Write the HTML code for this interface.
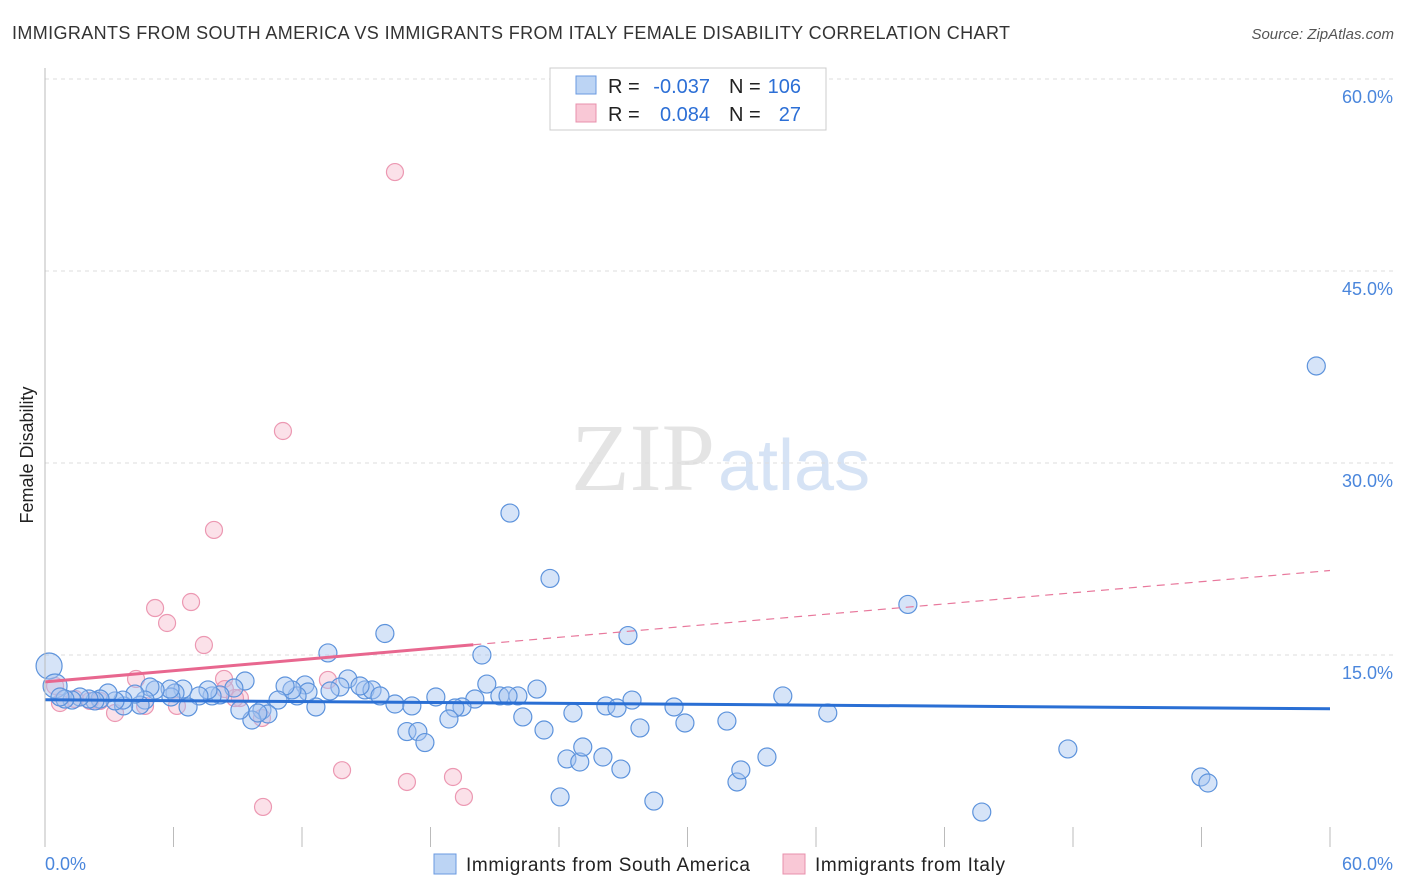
<!DOCTYPE html>
<html><head><meta charset="utf-8"><style>
body{margin:0;background:#fff;font-family:"Liberation Sans",sans-serif}
#c{position:relative;width:1406px;height:892px;overflow:hidden}
</style></head><body>
<div id="c">
<svg id="s" width="1406" height="892">
<text x="12" y="39" font-size="18" fill="#333" textLength="998">IMMIGRANTS FROM SOUTH AMERICA VS IMMIGRANTS FROM ITALY FEMALE DISABILITY CORRELATION CHART</text>
<text x="1394" y="39" font-size="15" fill="#555" text-anchor="end" font-style="italic">Source: ZipAtlas.com</text>
<text x="715" y="490" font-size="96" fill="#e4e4e4" text-anchor="end" font-family="Liberation Serif">ZIP</text>
<text x="718" y="490" font-size="72" fill="#d6e3f5">atlas</text>
<text transform="translate(33,455) rotate(-90)" font-size="18" fill="#222" text-anchor="middle">Female Disability</text>
<g id="grid"></g><g id="pts"></g><g id="lines"></g>
<line x1="45" y1="68" x2="45" y2="847" stroke="#bbb"/>
<g>
<rect x="550" y="68" width="276" height="62" fill="#fff" stroke="#ccc"/>
<rect x="576" y="76" width="20" height="18" fill="#bcd4f4" stroke="#6a9ae0"/>
<rect x="576" y="104" width="20" height="18" fill="#f9c8d6" stroke="#e890ac"/>
<text x="608" y="93" font-size="20" fill="#222">R =</text>
<text x="710" y="93" font-size="20" fill="#2c6fd6" text-anchor="end">-0.037</text>
<text x="729" y="93" font-size="20" fill="#222">N =</text>
<text x="801" y="93" font-size="20" fill="#2c6fd6" text-anchor="end">106</text>
<text x="608" y="121" font-size="20" fill="#222">R =</text>
<text x="710" y="121" font-size="20" fill="#2c6fd6" text-anchor="end">0.084</text>
<text x="729" y="121" font-size="20" fill="#222">N =</text>
<text x="801" y="121" font-size="20" fill="#2c6fd6" text-anchor="end">27</text>
</g>
<g>
<rect x="434" y="854" width="22" height="20" fill="#bcd4f4" stroke="#6a9ae0"/>
<text x="466" y="871" font-size="19" fill="#222" textLength="284">Immigrants from South America</text>
<rect x="783" y="854" width="22" height="20" fill="#f9c8d6" stroke="#e890ac"/>
<text x="815" y="871" font-size="19" fill="#222" textLength="190">Immigrants from Italy</text>
</g>
</svg></div>
<script>
const yTicks=[15,30,45,60];
const xTickLabels=["0.0%","60.0%"];
const blueX=[59.36,21.71,23.58,40.29,27.22,15.87,13.21,20.4,0.19,0.47,22.97,14.14,20.63,22.08,20.07,12.14,14.94,15.27,21.24,21.62,18.25,19.47,19.14,22.31,23.3,24.65,26.19,26.71,27.41,29.37,29.88,31.84,34.45,36.55,27.78,24.37,24.97,25.11,26.05,26.89,28.43,24.05,32.31,32.49,33.71,47.76,53.97,54.3,43.74,16.9,17.41,17.74,18.86,16.34,17.13,15.64,14.71,13.77,13.31,12.65,12.28,11.77,11.53,11.21,10.88,10.13,10.41,9.66,9.94,9.1,9.34,8.82,8.17,7.8,7.61,7.19,6.68,6.44,6.07,5.88,5.84,5.14,4.9,4.67,4.44,4.2,3.67,3.64,3.27,2.94,2.57,2.33,2.05,1.63,1.26,0.93,0.7];
const blueY=[37.58,26.09,20.98,18.95,16.52,16.68,15.16,15.0,14.14,12.58,12.34,13.13,12.73,11.8,11.56,12.66,12.27,12.27,11.8,11.8,11.72,10.94,10.86,10.16,9.14,10.47,11.02,10.86,11.48,10.94,9.69,9.84,11.8,10.47,9.3,6.88,6.64,7.81,7.03,6.09,3.59,3.91,5.08,6.02,7.03,7.66,5.47,5.0,2.73,9.02,9.02,8.16,10.0,11.17,11.02,11.8,12.58,12.5,12.19,10.94,12.11,11.8,12.27,12.58,11.48,10.7,10.39,9.92,10.47,10.7,12.97,12.42,11.88,11.8,12.27,11.8,10.94,12.34,12.03,11.72,12.34,12.27,12.5,11.48,11.09,11.95,11.02,11.48,11.41,12.03,11.56,11.41,11.56,11.72,11.48,11.56,11.72];
const blueR=[9,9,9,9,9,9,9,9,13,12];
const pinkX=[16.34,11.11,7.89,6.82,5.14,5.7,7.42,13.21,4.25,8.36,9.1,6.16,4.67,3.27,2.57,0.7,1.4,0.47,2.1,13.87,16.9,19.05,19.56,10.18,10.13,8.87,8.4];
const pinkY=[52.73,32.5,24.77,19.14,18.67,17.5,15.78,13.05,13.13,13.13,11.64,11.02,11.02,10.47,11.41,11.25,11.56,12.58,11.41,6.0,5.08,5.47,3.91,3.13,10.08,11.64,12.34];
const blueTrend=[11.5,10.8];
const pinkTrend=[12.9,21.6];
const pinkSolidEnd=20;
const NS="http://www.w3.org/2000/svg";
const X=v=>45+v*(1285/60), Y=v=>847-v*12.8;
function mk(tag,at,par){const e=document.createElementNS(NS,tag);for(const k in at)e.setAttribute(k,at[k]);document.getElementById(par).appendChild(e);return e;}
yTicks.forEach(t=>{
 const l=mk('line',{x1:45,x2:1395,y1:Y(t),y2:Y(t),stroke:'#ddd','stroke-dasharray':'4,4'},'grid');
 
 
 const tx=mk('text',{x:1393,y:Y(t)+24,'font-size':18,fill:'#4a86dc','text-anchor':'end'},'grid');
 tx.textContent=t.toFixed(1)+'%';
 
 
});
for(let i=0;i<=10;i++){
 const l=mk('line',{x1:X(i*6),x2:X(i*6),y1:827,y2:847,stroke:'#bbb'},'grid');
 
 
}
xTickLabels.forEach((s,i)=>{
 const tx=mk('text',{x:i?1393:45,y:870,'font-size':18,fill:'#4a86dc','text-anchor':i?'end':'start'},'grid');
 tx.textContent=s;
 
 
});
pinkX.forEach((x,i)=>{
 const c=mk('circle',{cx:X(x),cy:Y(pinkY[i]),r:8.5,fill:'rgba(246,180,200,0.4)',stroke:'#ec98b2','stroke-width':1.2},'pts');
 
 
});
blueX.forEach((x,i)=>{
 const c=mk('circle',{cx:X(x),cy:Y(blueY[i]),r:blueR[i]||9,fill:'rgba(164,196,240,0.45)',stroke:'#5d93dc','stroke-width':1.2},'pts');
 
 
});
const bt=mk('line',{x1:X(0),y1:Y(blueTrend[0]),x2:X(60),y2:Y(blueTrend[1]),stroke:'#2a6fd4','stroke-width':3},'lines');


const pm=pinkTrend[0]+(pinkTrend[1]-pinkTrend[0])*pinkSolidEnd/60;
const pt=mk('line',{x1:X(0),y1:Y(pinkTrend[0]),x2:X(pinkSolidEnd),y2:Y(pm),stroke:'#e8678f','stroke-width':3},'lines');


const pd=mk('line',{x1:X(pinkSolidEnd),y1:Y(pm),x2:X(60),y2:Y(pinkTrend[1]),stroke:'#e8789c','stroke-width':1.2,'stroke-dasharray':'8,6'},'lines');


</script>
</body></html>
